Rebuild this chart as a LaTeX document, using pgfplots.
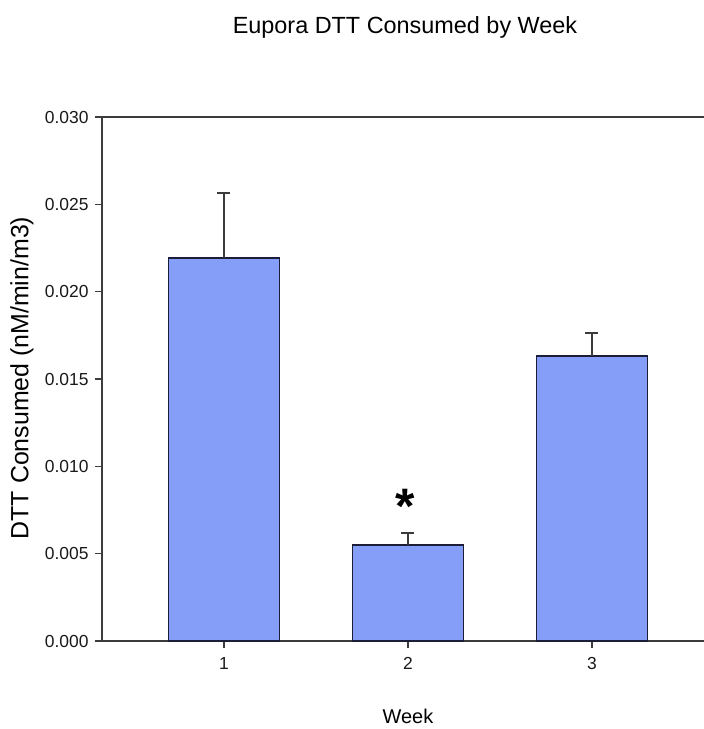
\documentclass[border=0pt]{standalone}
\usepackage{pgfplots}
\pgfplotsset{compat=1.18}
\usepackage{fontspec}
\setmainfont{Liberation Sans}

\definecolor{barfill}{RGB}{133,159,248}
\definecolor{baredge}{RGB}{28,30,55}
\definecolor{axisgray}{RGB}{60,60,60}

% Week, mean DTT consumed, standard error
\pgfplotstableread{
week  mean     err
1     0.02193  0.00372
2     0.00550  0.00069
3     0.01632  0.00131
}\dttdata

\begin{document}
\begin{tikzpicture}
\begin{axis}[
  at={(0,0)}, anchor=south west,
  scale only axis, width=602bp, height=524bp,
  xmin=0.337, xmax=3.609, ymin=0, ymax=0.030,
  axis lines=left,
  axis line style={-, line width=1.3bp, color=axisgray},
  xtick={1,2,3},
  ytick={0,0.005,0.010,0.015,0.020,0.025,0.030},
  scaled y ticks=false,
  yticklabel style={xshift=-3bp, /pgf/number format/.cd, fixed, fixed zerofill, precision=3},
  /pgf/number format/assume math mode=true,
  tick label style={font=\fontsize{17.5}{20}\selectfont, color=black!90},
  tick align=outside,
  major tick length=7bp,
  tick style={line width=1.2bp, color=axisgray},
  xticklabel style={yshift=-6bp},
  clip=false,
]
  \addplot[ybar, bar width=111bp, fill=barfill, draw=baredge, line width=1.3bp,
    error bars/.cd, y dir=plus, y explicit,
    error bar style={line width=1.3bp, color=axisgray},
    error mark options={rotate=90, line width=1.3bp, color=axisgray, mark size=6.5bp}]
    table[x=week, y=mean, y error=err] {\dttdata};

  % upper frame line
  \draw[line width=1.3bp, color=axisgray] (rel axis cs:0,1) -- (rel axis cs:1,1);

  % significance marker above week 2
  \node[anchor=north, inner sep=0pt, font=\fontsize{50}{54}\selectfont\bfseries]
    at (axis cs:1.985,0.00870) {*};

  % title and axis titles
  \path (rel axis cs:0,1) ++(303bp,90bp)
    node[font=\fontsize{23.5}{27}\selectfont] {Eupora DTT Consumed by Week};
  \path (rel axis cs:0,0) ++(306bp,-75bp)
    node[font=\fontsize{20}{24}\selectfont] {Week};
  \path (rel axis cs:0,0.5) ++(-80bp,1bp)
    node[rotate=90, font=\fontsize{25}{29}\selectfont] {DTT Consumed (nM/min/m3)};
\end{axis}
\pgfresetboundingbox
\path[use as bounding box] (-102bp,-88bp) rectangle (602bp,641bp);
\end{tikzpicture}
\end{document}
